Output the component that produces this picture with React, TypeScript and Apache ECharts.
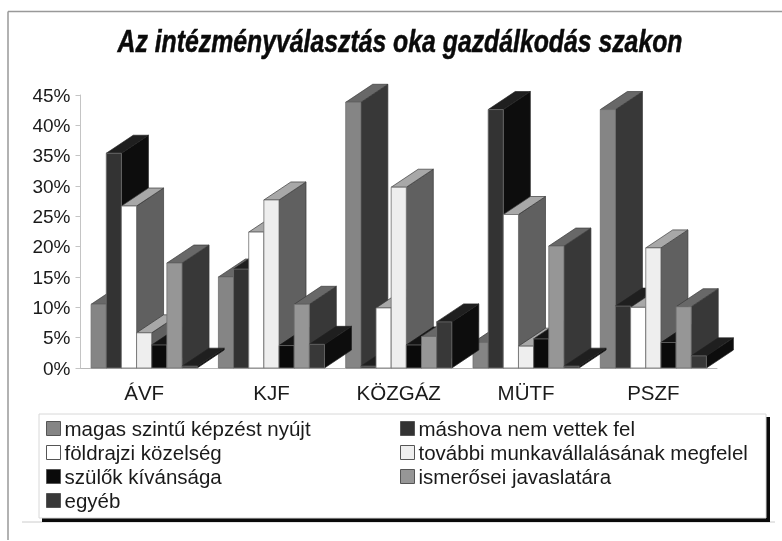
import React, { useEffect, useRef } from "react";
import * as echarts from "echarts";

const categories = ["ÁVF", "KJF", "KÖZGÁZ", "MÜTF", "PSZF"];
const yTicks = { min: 0, max: 45, interval: 5 };
const titleText = "Az intézményválasztás oka gazdálkodás szakon";

const seriesNames = [
  "magas szintű képzést nyújt",
  "máshova nem vettek fel",
  "földrajzi közelség",
  "további munkavállalásának megfelel",
  "szülők kívánsága",
  "ismerősei javaslatára",
  "egyéb",
];

const magas = [10.5, 15, 43.8, 4.2, 42.6];
const mashova = [35.4, 16.3, 0.3, 42.6, 10.2];
const foldrajzi = [26.7, 22.4, 9.9, 25.3, 10];
const tovabbi = [5.8, 27.7, 29.8, 3.6, 19.8];
const szulok = [3.8, 3.7, 3.8, 4.8, 4.2];
const ismerosei = [17.3, 10.5, 5.2, 20.1, 10.1];
const egyeb = [0.3, 3.9, 7.6, 0.3, 2];
const seriesValues = [magas, mashova, foldrajzi, tovabbi, szulok, ismerosei, egyeb];

const frontColors = ["#858585", "#333333", "#ffffff", "#eeeeee", "#0a0a0a", "#969696", "#383838"];
const topColors = ["#686868", "#1f1f1f", "#a8a8a8", "#a8a8a8", "#141414", "#686868", "#1f1f1f"];
const sideColors = ["#383838", "#0d0d0d", "#606060", "#606060", "#0a0a0a", "#383838", "#0d0d0d"];
const edgeColors = ["#3a3a3a", "#222222", "#3a3a3a", "#3a3a3a", "#151515", "#3a3a3a", "#222222"];

const DEPTH_X = 27;
const DEPTH_Y = 18;
const BARS_PER_BAND = 8.4;

function makeRenderItem(seriesIndex: number) {
  return (_params: any, api: any) => {
    const cat = api.value(0);
    const val = api.value(1);
    const base = api.coord([cat, 0]);
    const top = api.coord([cat, val]);
    const band = api.size([1, 0])[0];
    const w = band / BARS_PER_BAND;
    const x0 = base[0] - (w * seriesNames.length) / 2 + seriesIndex * w;
    const x1 = x0 + w;
    const y0 = base[1];
    const y1 = top[1];
    const edge = { stroke: edgeColors[seriesIndex], lineWidth: 0.7 };
    return {
      type: "group",
      children: [
        {
          type: "polygon",
          shape: { points: [[x1, y0], [x1 + DEPTH_X, y0 - DEPTH_Y], [x1 + DEPTH_X, y1 - DEPTH_Y], [x1, y1]] },
          style: { fill: sideColors[seriesIndex], ...edge },
        },
        {
          type: "polygon",
          shape: { points: [[x0, y1], [x1, y1], [x1 + DEPTH_X, y1 - DEPTH_Y], [x0 + DEPTH_X, y1 - DEPTH_Y]] },
          style: { fill: topColors[seriesIndex], ...edge },
        },
        {
          type: "rect",
          shape: { x: x0, y: y1, width: w, height: y0 - y1 },
          style: { fill: frontColors[seriesIndex], stroke: "#6e6e6e", lineWidth: 0.8 },
        },
      ],
    };
  };
}

const legendLeft = [0, 2, 4, 6];
const legendRight = [1, 3, 5];

function legendOf(indices: number[], left: number) {
  return {
    show: true,
    orient: "vertical" as const,
    left,
    top: 418,
    padding: 0,
    itemWidth: 14,
    itemHeight: 14,
    itemGap: 3,
    selectedMode: false,
    icon: "rect",
    textStyle: {
      fontFamily: "Liberation Sans",
      fontSize: 20.5,
      lineHeight: 18,
      color: "#1a1a1a",
      padding: [0, 0, 0, -1],
    },
    data: indices.map((i) => ({
      name: seriesNames[i],
      itemStyle: { color: frontColors[i], borderColor: "#555555", borderWidth: 1 },
    })),
  };
}

export default function App() {
  const ref = useRef<HTMLDivElement>(null);
  useEffect(() => {
    if (!ref.current) return;
    const chart = echarts.init(ref.current, undefined, { renderer: "svg" });
    chart.setOption({
      animation: false,
      backgroundColor: "#ffffff",
      grid: { left: 80.5, right: 65, top: 95, height: 273 },
      xAxis: {
        type: "category",
        data: categories,
        axisLine: { lineStyle: { color: "#b8b8b8", width: 1 } },
        axisTick: { show: false },
        axisLabel: { margin: 14, color: "#1a1a1a", fontFamily: "Liberation Sans", fontSize: 20.5 },
      },
      yAxis: {
        type: "value",
        min: yTicks.min,
        max: yTicks.max,
        interval: yTicks.interval,
        splitLine: { show: false },
        axisLine: { show: true, lineStyle: { color: "#c4c4c4", width: 1 } },
        axisTick: { show: true, length: 5, lineStyle: { color: "#c4c4c4" } },
        axisLabel: {
          margin: 10,
          color: "#1a1a1a",
          fontFamily: "Liberation Sans",
          fontSize: 19,
          formatter: "{value}%",
        },
      },
      legend: [legendOf(legendLeft, 46), legendOf(legendRight, 400)],
      series: seriesValues.map((vals, i) => ({
        type: "custom",
        name: seriesNames[i],
        renderItem: makeRenderItem(i),
        clip: false,
        itemStyle: { color: frontColors[i] },
        encode: { x: 0, y: 1 },
        data: vals.map((v, c) => [c, v]),
        z: 2,
      })),
      graphic: [
        { type: "line", z: 0, shape: { x1: 8, y1: 11.5, x2: 782, y2: 11.5 }, style: { stroke: "#999999", lineWidth: 1.5 } },
        { type: "line", z: 0, shape: { x1: 8, y1: 11.5, x2: 8, y2: 540 }, style: { stroke: "#999999", lineWidth: 1.5 } },
        { type: "line", z: 0, shape: { x1: 22, y1: 522, x2: 775, y2: 522 }, style: { stroke: "#cccccc", lineWidth: 1 } },
        { type: "rect", z: 1, shape: { x: 42, y: 417, width: 728, height: 105 }, style: { fill: "#0a0a0a" } },
        { type: "rect", z: 1, shape: { x: 39, y: 414, width: 727, height: 104 }, style: { fill: "#ffffff", stroke: "#d8d8d8", lineWidth: 1 } },
        {
          type: "text",
          z: 5,
          x: 400,
          y: 42,
          scaleX: 0.8,
          style: {
            text: titleText,
            fontFamily: "Liberation Sans",
            fontSize: 31,
            fontWeight: "bold",
            fontStyle: "italic",
            fill: "#0a0a0a",
            stroke: "#0a0a0a",
            lineWidth: 0.5,
            align: "center",
            verticalAlign: "middle",
          },
        },
      ],
    });
    return () => chart.dispose();
  }, []);
  return <div ref={ref} style={{ position: "fixed", left: 0, top: 0, width: 782, height: 541, filter: "blur(0.5px)" }} />;
}
